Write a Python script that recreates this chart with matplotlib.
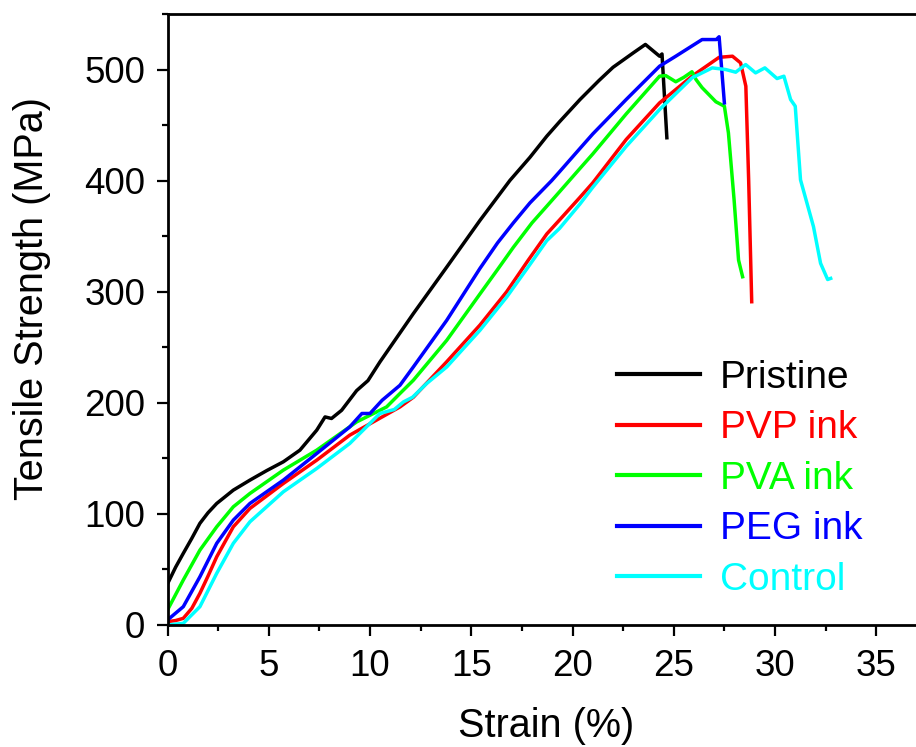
import numpy as np
import matplotlib
matplotlib.use('Agg')
import matplotlib.pyplot as plt
from matplotlib.ticker import MultipleLocator

plt.rcParams['font.family'] = ['Liberation Sans', 'DejaVu Sans']

# strain (%) / tensile strength (MPa)
pristine_x = [0, 0.4, 0.78, 1.2, 1.6, 2.0, 2.43, 3.25, 4.07, 4.9, 5.72, 6.54, 7.37, 7.78, 8.1,
              8.6, 9.34, 9.9, 10.49, 12.14, 13.79, 15.43, 16.91, 17.9, 18.73, 19.36, 20.37,
              21.3, 22.0, 23.0, 23.6, 24.3, 24.42, 24.66]
pristine_y = [37, 52, 64.5, 78, 91.5, 101, 109.4, 121.4, 130.4, 139, 146.9, 157.4, 175.4, 187.3, 185.9,
              193.3, 211, 220, 236.8, 280.3, 322.2, 364.2, 400.2, 421, 440, 453, 473,
              490, 502, 515, 522.6, 512, 514, 438.6]

pvp_x = [0, 0.4, 0.78, 1.2, 1.6, 2.0, 2.43, 3.25, 4.07, 5.72, 7.37, 9.0, 10.6, 11.48, 12.14,
         13.79, 15.43, 16.75, 17.8, 18.73, 19.36, 20.37, 21.0, 22.65, 24.3, 25.9, 27.24, 27.9,
         28.3, 28.56, 28.7, 28.85]
pvp_y = [3, 4, 6, 15, 28.5, 44, 61.4, 88.4, 104.9, 127.4, 148.4, 170.9, 187.3, 196.3, 205,
         237, 270, 300, 328, 352, 364.6, 385, 398, 437, 470, 494, 511, 512,
         506, 485, 400, 291]

pva_x = [0, 0.78, 1.6, 2.43, 3.25, 4.07, 5.72, 7.37, 9.34, 10.82, 11.48, 12.14, 13.79, 15.43,
         16.3, 17.08, 18.0, 18.73, 19.36, 20.37, 21.0, 22.65, 24.3, 24.6, 25.1, 25.5, 25.9, 26.1, 26.4,
         27.08, 27.5, 27.7, 27.98, 28.2, 28.4]
pva_y = [13.5, 40.5, 67.4, 88.4, 106.4, 118.4, 139.4, 157.4, 182.8, 196.3, 208.4, 220.3, 256.3, 298,
         320, 340, 362, 377, 390, 411, 424, 460, 494, 494.6, 489, 493, 498, 491, 483.7,
         471, 467, 443, 382.7, 328.5, 313.5]

peg_x = [0, 0.78, 1.6, 2.43, 3.25, 4.07, 5.72, 7.37, 9.0, 9.6, 10.0, 10.6, 11.48, 12.14, 13.79,
         15.43, 16.3, 17.08, 17.9, 18.97, 19.36, 20.37, 21.0, 22.65, 24.3, 25.1, 26.4, 27.1, 27.24, 27.5]
peg_y = [4.5, 16.5, 43.4, 73.5, 94.4, 109.4, 130.4, 154.4, 178.3, 190.4, 190.4, 202.3, 215.8, 232.3, 274.3,
         321, 344, 362, 380, 400, 408, 429, 442, 473, 503, 512, 527, 527, 529.5, 470]

control_x = [0, 0.78, 1.6, 2.43, 3.25, 4.07, 5.72, 7.37, 9.0, 10.49, 11.2, 11.65, 12.1, 12.8, 13.79,
             15.43, 16.75, 17.8, 18.73, 19.36, 20.37, 21.0, 22.65, 24.3, 25.9, 26.9, 27.57, 28.06, 28.55,
             29.04, 29.5, 30.1, 30.44, 30.77, 31.0, 31.26, 31.9, 32.25, 32.6, 32.75]
control_y = [0, 1.5, 16.5, 46.5, 73.5, 92.9, 119.9, 140.9, 163.4, 190.4, 194, 200.8, 205, 217.4, 232.3,
             265.3, 295.2, 322, 346, 357, 379, 394, 430.8, 464, 492.5, 501.5, 500, 497.6, 504.5,
             497, 501.5, 491.9, 494, 473, 467, 400.7, 358.6, 325.6, 311, 312]

labels = ['Pristine', 'PVP ink', 'PVA ink', 'PEG ink', 'Control']
colors = ['black', '#ff0000', '#00ff00', '#0000ff', '#00ffff']
series = [(pristine_x, pristine_y), (pvp_x, pvp_y), (pva_x, pva_y),
          (peg_x, peg_y), (control_x, control_y)]
xticks = [0, 5, 10, 15, 20, 25, 30, 35]

W, H = 916, 747
fig = plt.figure(figsize=(W / 100, H / 100), dpi=100)
# axes run past the right edge of the figure, like the cropped original
ax = fig.add_axes([167.5 / W, (H - 625) / H, 40 * 20.25 / W, (625 - 14) / H])

for (xs, ys), c, lab in zip(series, colors, labels):
    ax.plot(xs, ys, color=c, linewidth=2.5, label=lab, solid_joinstyle='round')

ax.set_xlim(0, 40)
ax.set_ylim(0, 550)
ax.set_xticks(xticks)
ax.xaxis.set_minor_locator(MultipleLocator(2.5))
ax.yaxis.set_major_locator(MultipleLocator(100))
ax.yaxis.set_minor_locator(MultipleLocator(50))
ax.tick_params(which='major', direction='out', length=8, width=1.6, labelsize=26.5)
ax.tick_params(which='minor', direction='out', length=4, width=1.6)
ax.tick_params(axis='x', which='major', pad=9)
ax.tick_params(axis='y', which='major', pad=8)
for s in ax.spines.values():
    s.set_linewidth(2)

ax.set_xlabel('Strain (%)', fontsize=28.5, va='baseline')
ax.xaxis.set_label_coords(546.5 / W, 1 - 737 / H, transform=fig.transFigure)
ax.set_ylabel('Tensile Strength (MPa)', fontsize=28.5, va='baseline')
ax.yaxis.set_label_coords(43.5 / W, 1 - 298.5 / H, transform=fig.transFigure)

leg = ax.legend(loc='upper left', bbox_to_anchor=(617 / W, 1 - 360 / H),
                bbox_transform=fig.transFigure, frameon=False, fontsize=28,
                handlelength=2.13, handletextpad=0.51, labelspacing=0.37,
                borderpad=0, borderaxespad=0, labelcolor='linecolor')
for line in leg.get_lines():
    line.set_linewidth(3)

fig.savefig('out.png', dpi=100)
